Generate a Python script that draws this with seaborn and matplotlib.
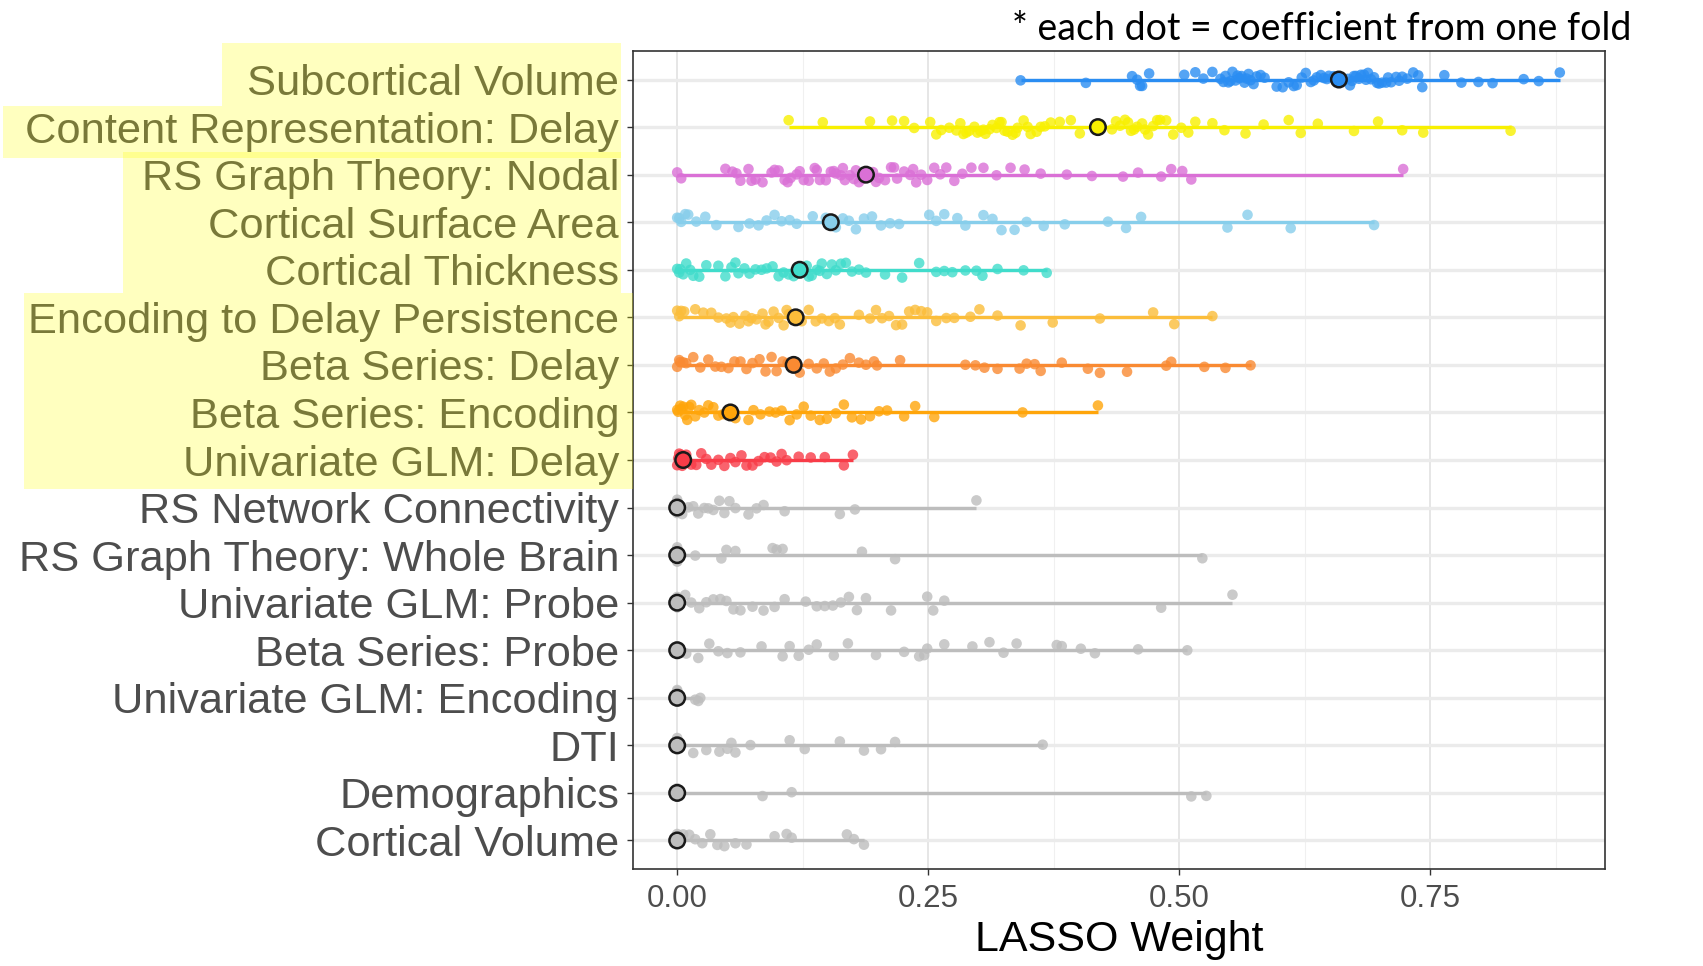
import numpy as np
import pandas as pd
import matplotlib
matplotlib.use("Agg")
import matplotlib.pyplot as plt
from matplotlib.patches import Rectangle
from matplotlib.ticker import MultipleLocator
import seaborn as sns

# ---------------- data ----------------
features = [
    "Subcortical Volume", "Content Representation: Delay", "RS Graph Theory: Nodal",
    "Cortical Surface Area", "Cortical Thickness", "Encoding to Delay Persistence",
    "Beta Series: Delay", "Beta Series: Encoding", "Univariate GLM: Delay",
    "RS Network Connectivity", "RS Graph Theory: Whole Brain", "Univariate GLM: Probe",
    "Beta Series: Probe", "Univariate GLM: Encoding", "DTI", "Demographics", "Cortical Volume",
]

subcortical_volume = [0.342, 0.407, 0.453, 0.458, 0.461, 0.463, 0.470, 0.505, 0.516, 0.524, 0.533,
                      0.541, 0.544, 0.546, 0.549, 0.551, 0.553, 0.556, 0.558, 0.560, 0.562, 0.565,
                      0.567, 0.569, 0.571, 0.574, 0.577, 0.581, 0.585, 0.597, 0.603, 0.609, 0.614,
                      0.617, 0.622, 0.626, 0.631, 0.634, 0.637, 0.641, 0.644, 0.647, 0.649, 0.654,
                      0.668, 0.670, 0.672, 0.674, 0.676, 0.679, 0.681, 0.684, 0.686, 0.688, 0.691,
                      0.694, 0.697, 0.699, 0.702, 0.706, 0.708, 0.711, 0.716, 0.719, 0.722, 0.727,
                      0.733, 0.738, 0.742, 0.764, 0.781, 0.798, 0.812, 0.843, 0.858, 0.879]
content_delay = [0.111, 0.145, 0.192, 0.214, 0.226, 0.236, 0.252, 0.258, 0.263, 0.271, 0.278, 0.282,
                 0.285, 0.288, 0.291, 0.296, 0.299, 0.302, 0.305, 0.307, 0.311, 0.314, 0.318, 0.321,
                 0.323, 0.326, 0.329, 0.334, 0.337, 0.339, 0.345, 0.349, 0.352, 0.358, 0.362, 0.366,
                 0.372, 0.381, 0.392, 0.401, 0.433, 0.437, 0.441, 0.446, 0.449, 0.452, 0.455, 0.458,
                 0.463, 0.466, 0.469, 0.474, 0.478, 0.481, 0.487, 0.494, 0.502, 0.509, 0.516, 0.533,
                 0.545, 0.566, 0.584, 0.609, 0.621, 0.638, 0.674, 0.698, 0.722, 0.743, 0.830]
rs_nodal = [0.000, 0.004, 0.048, 0.055, 0.059, 0.063, 0.071, 0.074, 0.078, 0.085, 0.094, 0.097, 0.101,
            0.107, 0.110, 0.113, 0.119, 0.122, 0.126, 0.131, 0.137, 0.139, 0.142, 0.148, 0.153, 0.156,
            0.158, 0.163, 0.165, 0.167, 0.172, 0.176, 0.178, 0.181, 0.185, 0.195, 0.198, 0.201, 0.207,
            0.213, 0.216, 0.219, 0.226, 0.232, 0.235, 0.238, 0.243, 0.249, 0.256, 0.262, 0.268, 0.276,
            0.284, 0.293, 0.305, 0.318, 0.332, 0.346, 0.362, 0.388, 0.413, 0.444, 0.459, 0.482, 0.492,
            0.503, 0.512, 0.723]
surface_area = [0.000, 0.002, 0.004, 0.008, 0.011, 0.019, 0.028, 0.039, 0.061, 0.072, 0.081, 0.089,
                0.097, 0.104, 0.112, 0.119, 0.135, 0.148, 0.158, 0.165, 0.171, 0.178, 0.186, 0.194,
                0.203, 0.212, 0.221, 0.251, 0.258, 0.266, 0.279, 0.287, 0.305, 0.314, 0.323, 0.336,
                0.348, 0.365, 0.386, 0.429, 0.447, 0.462, 0.548, 0.568, 0.611, 0.694]
thickness = [0.000, 0.002, 0.003, 0.006, 0.009, 0.013, 0.016, 0.022, 0.029, 0.041, 0.048, 0.054, 0.058,
             0.061, 0.067, 0.072, 0.078, 0.084, 0.089, 0.095, 0.101, 0.106, 0.111, 0.116, 0.129, 0.131,
             0.134, 0.139, 0.142, 0.144, 0.149, 0.154, 0.158, 0.163, 0.168, 0.174, 0.181, 0.188, 0.207,
             0.224, 0.241, 0.258, 0.266, 0.274, 0.287, 0.298, 0.304, 0.319, 0.345, 0.368]
persistence = [0.000, 0.002, 0.004, 0.007, 0.018, 0.026, 0.034, 0.041, 0.049, 0.053, 0.056, 0.062,
               0.068, 0.071, 0.074, 0.079, 0.085, 0.088, 0.091, 0.096, 0.101, 0.106, 0.109, 0.111,
               0.124, 0.131, 0.138, 0.144, 0.151, 0.157, 0.162, 0.181, 0.192, 0.198, 0.204, 0.211,
               0.218, 0.224, 0.231, 0.237, 0.243, 0.249, 0.258, 0.268, 0.276, 0.292, 0.301, 0.319,
               0.342, 0.374, 0.421, 0.474, 0.495, 0.533]
beta_delay = [0.000, 0.002, 0.003, 0.006, 0.009, 0.016, 0.023, 0.031, 0.038, 0.044, 0.051, 0.057,
              0.063, 0.069, 0.075, 0.082, 0.088, 0.094, 0.099, 0.105, 0.110, 0.122, 0.131, 0.139,
              0.146, 0.152, 0.158, 0.165, 0.172, 0.181, 0.188, 0.196, 0.199, 0.222, 0.287, 0.297,
              0.306, 0.319, 0.341, 0.348, 0.356, 0.362, 0.383, 0.409, 0.421, 0.448, 0.487, 0.492,
              0.525, 0.546, 0.571]
beta_encoding = [0.000, 0.001, 0.003, 0.004, 0.006, 0.008, 0.010, 0.012, 0.014, 0.018, 0.022, 0.027,
                 0.031, 0.036, 0.041, 0.046, 0.058, 0.071, 0.076, 0.083, 0.092, 0.098, 0.104, 0.112,
                 0.119, 0.126, 0.133, 0.142, 0.149, 0.158, 0.166, 0.174, 0.183, 0.192, 0.201, 0.209,
                 0.226, 0.237, 0.256, 0.344, 0.419]
glm_delay = [0.000, 0.001, 0.002, 0.004, 0.005, 0.009, 0.014, 0.019, 0.024, 0.029, 0.034, 0.041, 0.047,
             0.053, 0.058, 0.064, 0.069, 0.075, 0.081, 0.087, 0.093, 0.099, 0.104, 0.109, 0.121, 0.133,
             0.147, 0.166, 0.175]
rs_network = [0.0, 0.0, 0.0, 0.0, 0.0, 0.005, 0.011, 0.016, 0.021, 0.027, 0.031, 0.036, 0.042, 0.047,
              0.052, 0.058, 0.071, 0.079, 0.086, 0.107, 0.162, 0.177, 0.298]
rs_whole_brain = [0.0, 0.0, 0.0, 0.0, 0.0, 0.018, 0.044, 0.049, 0.058, 0.095, 0.099, 0.105, 0.184,
                  0.217, 0.523]
glm_probe = [0.0, 0.0, 0.0, 0.0, 0.0, 0.008, 0.014, 0.022, 0.029, 0.036, 0.043, 0.049, 0.056, 0.063,
             0.075, 0.086, 0.097, 0.107, 0.128, 0.139, 0.147, 0.155, 0.163, 0.171, 0.179, 0.188, 0.213,
             0.249, 0.255, 0.266, 0.482, 0.553]
beta_probe = [0.0, 0.0, 0.0, 0.0, 0.0, 0.009, 0.021, 0.032, 0.041, 0.050, 0.063, 0.084, 0.105, 0.112,
              0.121, 0.131, 0.139, 0.156, 0.170, 0.198, 0.226, 0.241, 0.246, 0.249, 0.266, 0.294, 0.311,
              0.325, 0.338, 0.378, 0.383, 0.402, 0.416, 0.459, 0.508]
glm_encoding = [0.0, 0.0, 0.0, 0.0, 0.0, 0.018, 0.021, 0.023]
dti = [0.0, 0.0, 0.0, 0.0, 0.0, 0.016, 0.029, 0.042, 0.050, 0.054, 0.058, 0.073, 0.112, 0.127, 0.162,
       0.186, 0.203, 0.217, 0.364]
demographics = [0.0, 0.0, 0.0, 0.0, 0.0, 0.085, 0.114, 0.512, 0.527]
cortical_volume = [0.0, 0.0, 0.0, 0.0, 0.0, 0.006, 0.012, 0.018, 0.025, 0.033, 0.040, 0.047, 0.058,
                   0.069, 0.097, 0.109, 0.114, 0.169, 0.176, 0.186]

fold_values = [subcortical_volume, content_delay, rs_nodal, surface_area, thickness, persistence,
               beta_delay, beta_encoding, glm_delay, rs_network, rs_whole_brain, glm_probe,
               beta_probe, glm_encoding, dti, demographics, cortical_volume]

medians = [0.659, 0.419, 0.188, 0.153, 0.122, 0.118, 0.116, 0.053, 0.006,
           0.0, 0.0, 0.0, 0.0, 0.0, 0.0, 0.0, 0.0]

colors = ["#2A8DF2", "#F8F000", "#DA70D6", "#87CEEB", "#40DCCB", "#FBBD3A", "#F98A32",
          "#FFA50A", "#F83C48"] + ["#BDBDBD"] * 8

note_text = "* each dot = coefficient from one fold"

# ---------------- build frames ----------------
rows = []
for f, vals in zip(features, fold_values):
    for v in vals:
        rows.append((f, v))
df = pd.DataFrame(rows, columns=["feature", "weight"])
med_df = pd.DataFrame({"feature": features, "median": medians})
palette = dict(zip(features, colors))

# ---------------- figure ----------------
W, H = 1703, 966
fig = plt.figure(figsize=(W / 100, H / 100), dpi=100)
ax = fig.add_axes([633 / W, 1 - 869 / H, (1605 - 633) / W, (869 - 51) / H])
ax.set_facecolor("white")

# range lines (min -> max per feature)
rng = df.groupby("feature")["weight"].agg(["min", "max"]).reindex(features)
for i, f in enumerate(features):
    ax.hlines(i, rng.loc[f, "min"], rng.loc[f, "max"], color=palette[f], lw=2.4, zorder=2)

np.random.seed(3)
sns.stripplot(data=df, x="weight", y="feature", hue="feature", order=features,
              palette=palette, orient="h", jitter=0.17, size=7.6, alpha=0.8,
              linewidth=0, legend=False, ax=ax, zorder=3)

sns.scatterplot(data=med_df, x="median", y="feature", hue="feature", palette=palette,
                s=125, edgecolor="#1a1a1a", linewidth=1.8, legend=False, ax=ax, zorder=4)

ax.set_xlim(-0.044, 0.924)
ax.set_ylim(len(features) - 0.4, -0.6)

# grid
ax.xaxis.set_major_locator(MultipleLocator(0.25))
ax.xaxis.set_minor_locator(MultipleLocator(0.125))
ax.grid(axis="x", which="major", color="#E6E6E6", lw=1.4, zorder=0)
ax.grid(axis="x", which="minor", color="#F0F0F0", lw=0.8, zorder=0)
ax.grid(axis="y", which="major", color="#EBEBEB", lw=2.4, zorder=0)
ax.set_axisbelow(True)

for s in ax.spines.values():
    s.set_color("#333333")
    s.set_linewidth(1.2)

ax.set_xticks([0, 0.25, 0.5, 0.75])
ax.set_xticklabels(["0.00", "0.25", "0.50", "0.75"])
ax.tick_params(axis="x", which="major", length=4, width=1, color="#333333",
               labelsize=22.5, labelcolor="#4D4D4D", pad=7)
ax.tick_params(axis="x", which="minor", length=0)
ax.tick_params(axis="y", length=4, width=1, color="#333333",
               labelsize=31.2, labelcolor="#4D4D4D", pad=6)
for lab in ax.get_xticklabels() + ax.get_yticklabels():
    lab.set_family("Liberation Sans")

ax.set_ylabel("")
ax.set_xlabel("LASSO Weight", fontsize=31, family="Liberation Sans", color="black", labelpad=4)

# yellow highlight boxes over the labels
boxes = [(221.6, 43.4, 621, 106.4), (3.3, 106.4, 621, 157.5),
         (122.7, 152, 621, 293), (23.9, 293, 633, 489)]
for x0, y0, x1, y1 in boxes:
    fig.patches.append(Rectangle((x0 / W, 1 - y1 / H), (x1 - x0) / W, (y1 - y0) / H,
                                 transform=fig.transFigure, facecolor="#FFFF00",
                                 alpha=0.25, edgecolor="none", zorder=10))

fig.text(1631 / W, 1 - 29 / H, note_text, ha="right", va="center",
         fontsize=27, family="Lato", color="black")

fig.savefig("out.png", dpi=100)
